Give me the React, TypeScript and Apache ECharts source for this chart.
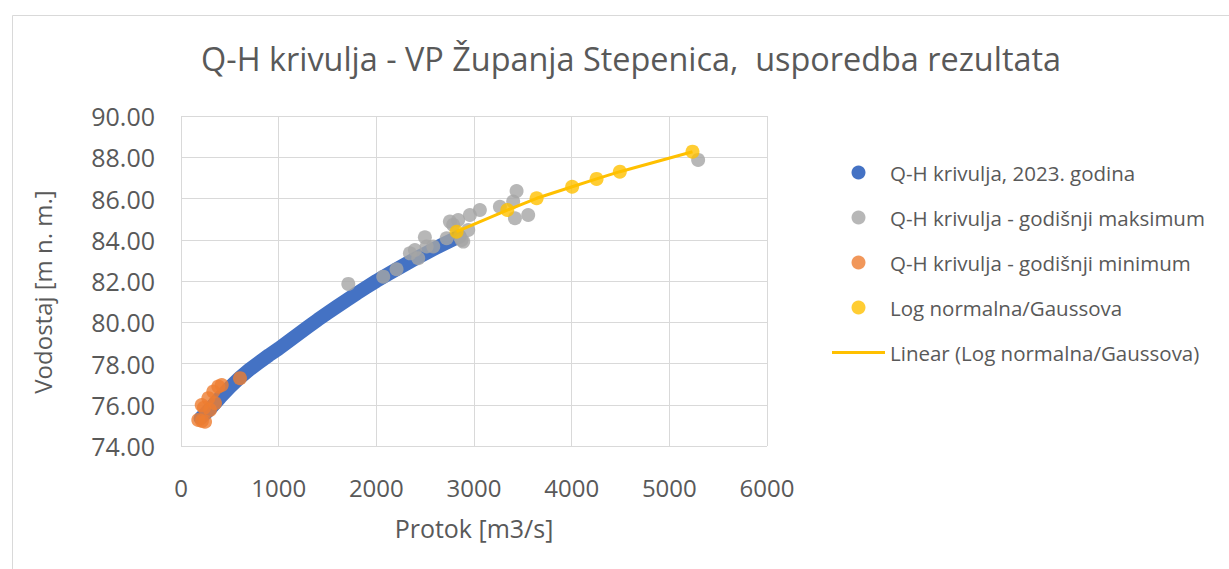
import React, { useEffect, useRef } from "react";
import * as echarts from "echarts";

const FONT = "'Open Sans', 'Noto Sans', sans-serif";
const TXT = "#595959";

const title = "Q-H krivulja - VP Županja Stepenica,  usporedba rezultata";
const xName = "Protok [m3/s]";
const yName = "Vodostaj [m n. m.]";

const seriesNames = [
  "Q-H krivulja, 2023. godina",
  "Q-H krivulja - godišnji maksimum",
  "Q-H krivulja - godišnji minimum",
  "Log normalna/Gaussova",
  "Linear (Log normalna/Gaussova)",
];

// Q-H curve 2023 (dense curve)
const blueQ = [200, 250, 300, 400, 500, 600, 700, 800, 900, 1000, 1100, 1200, 1300, 1400, 1500, 1600, 1700, 1800, 1900, 2000, 2100, 2200, 2300, 2400, 2500, 2600, 2700, 2800, 2850];
const blueH = [75.35, 75.58, 75.82, 76.35, 76.85, 77.3, 77.7, 78.05, 78.4, 78.72, 79.07, 79.42, 79.77, 80.12, 80.45, 80.77, 81.08, 81.4, 81.7, 82.0, 82.28, 82.55, 82.82, 83.08, 83.33, 83.58, 83.82, 84.05, 84.17];

// annual maxima
const grayQ = [1713, 2071, 2207, 2344, 2395, 2429, 2497, 2515, 2583, 2720, 2753, 2787, 2838, 2856, 2873, 2890, 2941, 2958, 3060, 3265, 3401, 3419, 3436, 3555, 5295];
const grayH = [81.86, 82.21, 82.57, 83.34, 83.5, 83.1, 84.12, 83.67, 83.67, 84.07, 84.88, 84.72, 84.96, 84.15, 83.99, 83.91, 84.47, 85.2, 85.44, 85.6, 85.85, 85.04, 86.36, 85.2, 87.87];

// annual minima
const orangeQ = [177, 215, 246, 212, 235, 280, 297, 331, 348, 382, 417, 604];
const orangeH = [75.26, 75.22, 75.18, 75.99, 75.85, 76.32, 75.75, 76.64, 76.07, 76.88, 76.96, 77.29];

// Log normal / Gauss
const yellowQ = [2822, 3341, 3641, 4005, 4255, 4493, 5237];
const yellowH = [84.39, 85.44, 86.01, 86.57, 86.95, 87.3, 88.27];

const xTicks = { min: 0, max: 6000, interval: 1000 };
const yTicks = { min: 74, max: 90, interval: 2 };

const zip = (a: number[], b: number[]) => a.map((v, i) => [v, b[i]]);

export default function App() {
  const ref = useRef<HTMLDivElement>(null);
  useEffect(() => {
    if (!ref.current) return;
    const chart = echarts.init(ref.current, null, { renderer: "svg" });
    chart.setOption({
      animation: false,
      backgroundColor: "#ffffff",
      textStyle: { fontFamily: FONT },
      title: {
        text: title,
        left: 626,
        top: 37,
        textAlign: "center",
        textStyle: { fontFamily: FONT, fontSize: 32.4, fontWeight: "normal", color: TXT },
      },
      grid: { left: 181, top: 116, width: 586, height: 330, containLabel: false },
      legend: {
        orient: "vertical",
        left: 827,
        top: 157,
        itemWidth: 53,
        itemHeight: 14,
        itemGap: 24,
        symbolKeepAspect: true,
        textStyle: { fontFamily: FONT, fontSize: 20.5, color: TXT, lineHeight: 20 },
        data: [
          { name: seriesNames[0], icon: "circle" },
          { name: seriesNames[1], icon: "circle" },
          { name: seriesNames[2], icon: "circle" },
          { name: seriesNames[3], icon: "circle" },
          { name: seriesNames[4], icon: "path://M0,0L53,0L53,3L0,3Z" },
        ],
      },
      xAxis: {
        type: "value",
        min: xTicks.min,
        max: xTicks.max,
        interval: xTicks.interval,
        axisLine: { show: false },
        axisTick: { show: false },
        splitLine: { show: true, lineStyle: { color: "#d9d9d9", width: 1 } },
        axisLabel: {
          fontFamily: FONT,
          fontSize: 24,
          color: TXT,
          margin: 29,
          formatter: (v: number) => String(v),
        },
      },
      yAxis: {
        type: "value",
        min: yTicks.min,
        max: yTicks.max,
        interval: yTicks.interval,
        axisLine: { show: false },
        axisTick: { show: false },
        splitLine: { show: true, lineStyle: { color: "#d9d9d9", width: 1 } },
        axisLabel: {
          fontFamily: FONT,
          fontSize: 25,
          color: TXT,
          margin: 26,
          formatter: (v: number) => v.toFixed(2),
        },
      },
      graphic: [
        {
          type: "rect",
          shape: { x: 12.5, y: 15.5, width: 1240, height: 600 },
          style: { fill: "none", stroke: "#d9d9d9", lineWidth: 1 },
          silent: true,
          z: -10,
        },
        {
          type: "text",
          x: 474,
          y: 528,
          style: {
            text: xName,
            fontFamily: FONT,
            fontSize: 25,
            fill: TXT,
            align: "center",
            verticalAlign: "middle",
          },
        },
        {
          type: "text",
          x: 42,
          y: 292,
          rotation: Math.PI / 2,
          style: {
            text: yName,
            fontFamily: FONT,
            fontSize: 24,
            fill: TXT,
            align: "center",
            verticalAlign: "middle",
          },
        },
      ],
      series: [
        {
          name: seriesNames[0],
          type: "line",
          data: zip(blueQ, blueH),
          showSymbol: false,
          symbol: "circle",
          color: "#4472C4",
          lineStyle: { width: 14, color: "#4472C4", cap: "round", join: "round" },
          z: 2,
        },
        {
          name: seriesNames[1],
          type: "scatter",
          data: zip(grayQ, grayH),
          symbolSize: 14,
          itemStyle: { color: "#A5A5A5" },
          z: 3,
        },
        {
          name: seriesNames[2],
          type: "scatter",
          data: zip(orangeQ, orangeH),
          symbolSize: 14,
          itemStyle: { color: "#ED7D31" },
          z: 4,
        },
        {
          name: seriesNames[4],
          type: "line",
          data: zip(yellowQ, yellowH),
          showSymbol: false,
          symbol: "none",
          color: "#FFC000",
          lineStyle: { width: 3, color: "#FFC000" },
          z: 5,
        },
        {
          name: seriesNames[3],
          type: "scatter",
          data: zip(yellowQ, yellowH),
          symbolSize: 14,
          itemStyle: { color: "#FFC000" },
          z: 6,
        },
      ],
    });
    return () => chart.dispose();
  }, []);
  return (
    <div
      ref={ref}
      style={{ position: "fixed", left: 0, top: 0, width: 1229, height: 569 }}
    />
  );
}
